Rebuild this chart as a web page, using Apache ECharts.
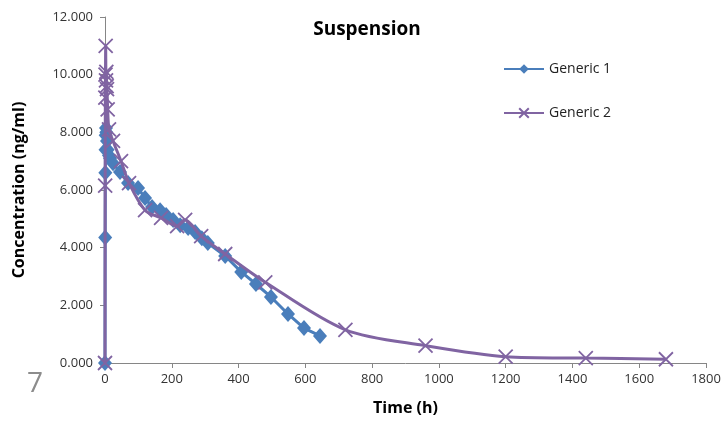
<!DOCTYPE html>
<html>
<head>
<meta charset="utf-8">
<script src="https://cdn.jsdelivr.net/npm/echarts@6/dist/echarts.min.js"></script>
<style>
html,body{margin:0;padding:0;background:#fff;}
#c{width:727px;height:428px;}
</style>
</head>
<body>
<div id="c"></div>
<script>
var chartTitle = 'Suspension';
var seriesNames = ['Generic 1', 'Generic 2'];
var xName = 'Time (h)';
var yName = 'Concentration (ng/ml)';

var g1Time = [0, 0.5, 1, 1.5, 2, 3, 4, 6, 8, 12, 15, 24, 45, 69, 99, 120, 141, 165, 183, 204, 225, 249, 270, 290, 308, 360, 408, 452, 497, 548, 596, 644];
var g1Conc = [0, 4.35, 6.6, 7.4, 7.9, 8.15, 8.0, 7.7, 7.4, 7.2, 7.1, 6.93, 6.62, 6.24, 6.07, 5.72, 5.41, 5.30, 5.13, 4.96, 4.78, 4.68, 4.54, 4.33, 4.16, 3.71, 3.16, 2.74, 2.29, 1.70, 1.21, 0.94];

var g2Time = [0, 0.5, 1, 1.5, 2, 3, 4, 5, 6, 8, 12, 24, 48, 72, 120, 168, 216, 240, 288, 360, 480, 720, 960, 1200, 1440, 1680];
var g2Conc = [0, 6.15, 9.2, 10.0, 11.0, 9.8, 10.1, 9.6, 9.5, 8.8, 8.1, 7.7, 7.0, 6.24, 5.3, 5.03, 4.75, 4.96, 4.4, 3.78, 2.8, 1.15, 0.6, 0.22, 0.17, 0.13];

var xMin = 0, xMax = 1800, xStep = 200;
var yMin = 0, yMax = 12, yStep = 2;

function pairs(t, v){ return t.map(function(x,i){ return [x, v[i]]; }); }

var chart = echarts.init(document.getElementById('c'), null, {renderer:'canvas'});
var labelFont = '"Open Sans", "Liberation Sans", sans-serif';
chart.setOption({
  animation: false,
  backgroundColor: '#ffffff',
  title: {
    text: chartTitle, left: 362, top: 15, textAlign: 'center',
    textStyle: {fontFamily: labelFont, fontSize: 19, fontWeight: 'bold', color: '#000'}
  },
  legend: {
    orient: 'vertical', left: 498, top: 57, itemGap: 30, itemWidth: 40, itemHeight: 12,
    textStyle: {fontFamily: labelFont, fontSize: 14, color: '#222'},
    data: seriesNames
  },
  grid: {left: 105, right: 21, top: 17, bottom: 65, containLabel: false},
  xAxis: {
    type: 'value', min: xMin, max: xMax, interval: xStep,
    name: xName, nameLocation: 'middle', nameGap: 37,
    nameTextStyle: {fontFamily: labelFont, fontSize: 16, fontWeight: 'bold', color: '#000'},
    axisLine: {lineStyle: {color: '#868686', width: 1}},
    axisTick: {show: true, inside: false, length: 5, lineStyle: {color: '#868686'}},
    axisLabel: {fontFamily: labelFont, fontSize: 13, color: '#333', margin: 10,
      formatter: function(v){ return String(v); }},
    splitLine: {show: false}
  },
  yAxis: {
    type: 'value', min: yMin, max: yMax, interval: yStep,
    name: yName, nameLocation: 'middle', nameGap: 78, nameRotate: 90,
    nameTextStyle: {fontFamily: labelFont, fontSize: 16, fontWeight: 'bold', color: '#000'},
    axisLine: {show: true, lineStyle: {color: '#868686', width: 1}},
    axisTick: {show: true, inside: false, length: 5, lineStyle: {color: '#868686'}},
    axisLabel: {fontFamily: labelFont, fontSize: 13, color: '#333', margin: 12,
      formatter: function(v){ return v.toFixed(3); }},
    splitLine: {show: false}
  },
  graphic: [{
    type: 'text', left: 27, top: 370,
    style: {text: '7', fontFamily: labelFont, fontSize: 28, fill: '#8c8c8c'}
  }],
  series: [
    {
      name: seriesNames[0], type: 'line', data: pairs(g1Time, g1Conc),
      symbol: 'diamond', symbolSize: [14, 16], smooth: false,
      lineStyle: {color: '#4A7EBB', width: 3},
      itemStyle: {color: '#4A7EBB'}, z: 2
    },
    {
      name: seriesNames[1], type: 'line', data: pairs(g2Time, g2Conc),
      symbol: 'path://M0,0L10,10M10,0L0,10', symbolSize: 14, smooth: 0.3,
      lineStyle: {color: '#8064A2', width: 3},
      itemStyle: {color: 'rgba(0,0,0,0)', borderColor: '#8064A2', borderWidth: 1.8}, z: 3
    }
  ]
});
</script>
</body>
</html>
